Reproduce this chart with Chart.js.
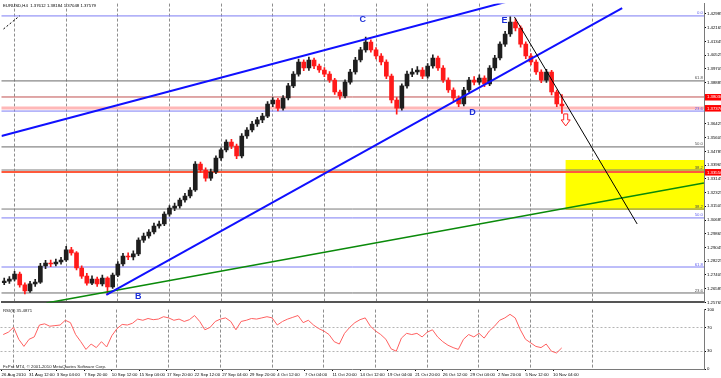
<!DOCTYPE html>
<html><head><meta charset="utf-8">
<script src="https://cdn.jsdelivr.net/npm/chart.js@4"></script>
<style>
html,body{margin:0;padding:0;background:#fff;overflow:hidden}
#wrap{position:relative;width:721px;height:378px;background:#fff}
canvas{position:absolute;left:0}
#main{top:0}
#rsi{top:306px}
</style></head><body>
<div id="wrap"><canvas id="main" width="721" height="306"></canvas><canvas id="rsi" width="721" height="72"></canvas></div>
<script>
// ---------------- DATA (EURUSD, 12h candles) ----------------
const candleOpen = [
1.2695,1.2704,1.2716,1.2746,1.2681,1.2645,1.2687,1.2698,1.2794,1.2812,
1.2806,1.2818,1.2830,1.2890,1.2872,1.2782,1.2734,1.2692,1.2716,1.2687,
1.2722,1.2669,1.2740,1.2806,1.2854,1.2848,1.2866,1.2949,1.2973,1.2997,
1.3033,1.3045,1.3104,1.3140,1.3152,1.3188,1.3212,1.3248,1.3403,1.3367,
1.3319,1.3355,1.3439,1.3487,1.3534,1.3510,1.3451,1.3570,1.3606,1.3642,
1.3666,1.3689,1.3761,1.3785,1.3737,1.3797,1.3869,1.3940,1.4012,1.3976,
1.4024,1.3988,1.3964,1.3940,1.3904,1.3833,1.3809,1.3892,1.3952,1.4024,
1.4084,1.4131,1.4084,1.4048,1.4012,1.3928,1.3785,1.3737,1.3869,1.3940,
1.3952,1.3964,1.3928,1.3988,1.4036,1.3976,1.3904,1.3845,1.3797,1.3761,
1.3845,1.3904,1.3892,1.3916,1.3881,1.3976,1.4036,1.4119,1.4179,1.4251,
1.4215,1.4119,1.4048,1.4012,1.3952,1.3904,1.3952,1.3833,1.3761];
const candleHigh = [
1.2722,1.2731,1.2762,1.2758,1.2693,1.2702,1.2715,1.2810,1.2828,1.2830,
1.2835,1.2846,1.2912,1.2905,1.2880,1.2795,1.2750,1.2735,1.2728,1.2740,
1.2730,1.2752,1.2820,1.2870,1.2872,1.2885,1.2962,1.2990,1.3012,1.3050,
1.3062,1.3118,1.3155,1.3170,1.3200,1.3228,1.3262,1.3418,1.3415,1.3380,
1.3372,1.3452,1.3500,1.3548,1.3550,1.3522,1.3585,1.3620,1.3658,1.3682,
1.3705,1.3775,1.3800,1.3795,1.3812,1.3885,1.3955,1.4030,1.4025,1.4042,
1.4035,1.4000,1.3978,1.3955,1.3915,1.3845,1.3905,1.3968,1.4040,1.4100,
1.4160,1.4145,1.4098,1.4062,1.4025,1.3940,1.3800,1.3882,1.3958,1.3972,
1.3985,1.3978,1.4002,1.4055,1.4048,1.3990,1.3918,1.3858,1.3810,1.3860,
1.3920,1.3925,1.3935,1.3930,1.3990,1.4052,1.4132,1.4195,1.4282,1.4270,
1.4228,1.4132,1.4062,1.4025,1.3965,1.3968,1.3962,1.3845,1.3818];
const candleLow = [
1.2683,1.2690,1.2705,1.2668,1.2627,1.2636,1.2672,1.2690,1.2778,1.2790,
1.2795,1.2805,1.2822,1.2858,1.2770,1.2720,1.2680,1.2682,1.2672,1.2675,
1.2625,1.2660,1.2731,1.2795,1.2832,1.2830,1.2855,1.2935,1.2960,1.2985,
1.3020,1.3035,1.3092,1.3125,1.3140,1.3175,1.3200,1.3240,1.3352,1.3300,
1.3305,1.3345,1.3425,1.3475,1.3495,1.3435,1.3440,1.3555,1.3595,1.3628,
1.3650,1.3680,1.3745,1.3720,1.3725,1.3785,1.3858,1.3928,1.3960,1.3962,
1.3972,1.3950,1.3925,1.3890,1.3818,1.3790,1.3798,1.3880,1.3940,1.4012,
1.4070,1.4070,1.4030,1.3995,1.3912,1.3768,1.3700,1.3725,1.3855,1.3925,
1.3938,1.3912,1.3915,1.3975,1.3962,1.3890,1.3830,1.3780,1.3745,1.3750,
1.3832,1.3875,1.3878,1.3865,1.3870,1.3962,1.4025,1.4105,1.4165,1.4198,
1.4100,1.4032,1.3995,1.3938,1.3888,1.3890,1.3815,1.3745,1.3705];
const candleClose = [
1.2704,1.2716,1.2746,1.2681,1.2645,1.2687,1.2698,1.2794,1.2812,1.2806,
1.2818,1.2830,1.2890,1.2872,1.2782,1.2734,1.2692,1.2716,1.2687,1.2722,
1.2669,1.2740,1.2806,1.2854,1.2848,1.2866,1.2949,1.2973,1.2997,1.3033,
1.3045,1.3104,1.3140,1.3152,1.3188,1.3212,1.3248,1.3403,1.3367,1.3319,
1.3355,1.3439,1.3487,1.3534,1.3510,1.3451,1.3570,1.3606,1.3642,1.3666,
1.3689,1.3761,1.3785,1.3737,1.3797,1.3869,1.3940,1.4012,1.3976,1.4024,
1.3988,1.3964,1.3940,1.3904,1.3833,1.3809,1.3892,1.3952,1.4024,1.4084,
1.4131,1.4084,1.4048,1.4012,1.3928,1.3785,1.3737,1.3869,1.3940,1.3952,
1.3964,1.3928,1.3988,1.4036,1.3976,1.3904,1.3845,1.3797,1.3761,1.3845,
1.3904,1.3892,1.3916,1.3881,1.3976,1.4036,1.4119,1.4179,1.4251,1.4215,
1.4119,1.4048,1.4012,1.3952,1.3904,1.3952,1.3833,1.3761,1.3749];
const rsiValues = [
58,62,70,50,38,50,54,74,76,72,
73,74,82,78,58,46,33,42,36,46,
37,56,68,75,74,77,84,82,85,83,
84,88,86,82,84,80,83,90,80,66,
70,80,84,86,80,66,80,82,85,84,
86,88,86,74,80,84,87,90,78,82,
74,68,64,58,46,42,60,70,78,83,
86,72,64,58,50,34,30,52,60,58,
60,54,62,66,54,46,40,36,33,50,
58,54,60,52,64,72,82,86,92,86,
66,50,44,38,36,42,30,27,35.49];
const timeLabels = ["26 Aug 2010","31 Aug 12:00","3 Sep 04:00","7 Sep 20:00","10 Sep 12:00","15 Sep 04:00",
"17 Sep 20:00","22 Sep 12:00","27 Sep 04:00","29 Sep 20:00","4 Oct 12:00","7 Oct 04:00","11 Oct 20:00",
"14 Oct 12:00","19 Oct 04:00","21 Oct 20:00","26 Oct 12:00","29 Oct 04:00","2 Nov 20:00","5 Nov 12:00","10 Nov 04:00"];
const priceTicks = [1.42985,1.42165,1.41345,1.40525,1.39705,1.38885,1.38065,1.37245,1.36425,1.35605,1.34785,
1.33965,1.33145,1.32325,1.31505,1.30685,1.29865,1.29045,1.28225,1.27405,1.26585,1.25765];
const rsiTicks = [0,30,70,100];
const weekGridBars = [7,37,67,97,127,157,187,217,247,277,307,343];
// horizontal objects (Fibonacci levels and price lines)
const levelPrices = [1.4287,1.3899,1.3803,1.3737,1.3719,1.3505,1.3367,1.3355,1.3134,1.3081,1.2788,1.2633];
const levelLabels = ["0.0","61.8","","","23.6","50.0","38.2","","38.2","50.0","61.8","23.6"];
const axisBoxLevels = [1.3803,1.3737,1.3355];
// trend lines: [bar, price] end points
const trendUpperBars = [-0.6,292.2],  trendUpperPrices = [1.3570,1.4370];
const trendLowerBars = [60.3,360.0],  trendLowerPrices = [1.2621,1.4334];
const trendGreenBars = [25.5,407.5],  trendGreenPrices = [1.2573,1.3290];
const trendBlackBars = [297.4,368.7], trendBlackPrices = [1.4281,1.3045];
const trendDashBars  = [0.6,9.9],     trendDashPrices  = [1.4209,1.4287];
const zoneBars = [327,420], zonePrices = [1.3128,1.3427];
const waveNames = ["B","C","D","E"];
const waveBars = [78.8,209.3,273.0,291.6];
const wavePrices = [1.2609,1.4263,1.3708,1.4257];
const arrowBar = 327.2, arrowPrice = 1.3702;
const headerText = "EURUSD,H4  1.37612 1.38184 1.37048 1.37579";
const rsiText = "RSI(9) 35.4871";
const copyText = "FxPro MT4, \u00A9 2001-2010 MetaQuotes Software Corp.";

// ---------------- LAYOUT / STYLE ----------------
const PX_PER_BAR = 1.725, BAR0_PX = 1;           // H4 bar -> pixel
const PRICE_AT_0 = 1.438208, PRICE_PER_PX = 0.000597;
const FONT = '"Liberation Sans", Arial, sans-serif';
const SMALL = 4.3;
const levelStyle = [
 {c:'#7c7cf4',w:1,t:'#5c5cf0'},{c:'#6a6a6a',w:1,t:'#505050'},{c:'#c05050',w:1,t:null},{c:'#ffb8b8',w:3,t:null},
 {c:'#7c7cf4',w:1,t:'#5c5cf0'},{c:'#6a6a6a',w:1,t:'#505050'},{c:'#7a7a7a',w:1,t:'#505050'},{c:'#ff5a3c',w:2,t:null},
 {c:'#7a7a7a',w:1,t:'#505050'},{c:'#7c7cf4',w:1,t:'#5c5cf0'},{c:'#7c7cf4',w:1,t:'#5c5cf0'},{c:'#6a6a6a',w:1,t:'#505050'}];
const BULL = '#1e1e1e', BEAR = '#ff1a1a';

Chart.defaults.font.family = FONT;
Chart.defaults.font.size = SMALL;
Chart.defaults.color = '#000';

const candleX = candleClose.map((_, i) => 3 * i + 1); // each candle covers 3 H4 bars
const candleColor = candleClose.map((c, i) => c >= candleOpen[i] ? BULL : BEAR);

function seg(bars, prices) { return bars.map((b, i) => ({x: b, y: prices[i]})); }
function lineDs(data, color, width, order, extra) {
  return Object.assign({type:'line', data, borderColor:color, borderWidth:width, pointRadius:0,
    tension:0, fill:false, order}, extra || {});
}

const datasets = [];
datasets.push(lineDs(seg(zoneBars, [zonePrices[0], zonePrices[0]]), 'rgba(0,0,0,0)', 0, 100));
datasets.push(lineDs(seg(zoneBars, [zonePrices[1], zonePrices[1]]), 'rgba(0,0,0,0)', 0, 99,
  {fill:'-1', backgroundColor:'#ffff00'}));
levelPrices.forEach((p, i) => {
  datasets.push(lineDs(seg([-5, 420], [p, p]), levelStyle[i].c, levelStyle[i].w, 50 - i));
});
datasets.push({type:'bar', data: candleX.map((x, i) => ({x, y:[candleLow[i], candleHigh[i]]})),
  backgroundColor: candleColor, barThickness:1, grouped:false, borderWidth:0, order:20});
datasets.push({type:'bar', data: candleX.map((x, i) => ({x, y:[candleOpen[i], candleClose[i]]})),
  backgroundColor: candleColor, barThickness:4, minBarLength:1, grouped:false, borderWidth:0, order:19});
datasets.push(lineDs(seg(trendGreenBars, trendGreenPrices), '#0a8a0a', 1.5, 12));
datasets.push(lineDs(seg(trendUpperBars, trendUpperPrices), '#1010ff', 2, 11));
datasets.push(lineDs(seg(trendLowerBars, trendLowerPrices), '#1010ff', 2, 10));
datasets.push(lineDs(seg(trendBlackBars, trendBlackPrices), '#000000', 1, 9));
datasets.push(lineDs(seg(trendDashBars, trendDashPrices), '#000000', 1, 8, {borderDash:[2,2]}));

const mainOverlay = {
  id: 'mainOverlay',
  afterDraw(chart) {
    const {ctx, chartArea: ca, scales: {x, y}} = chart;
    ctx.save();
    ctx.font = SMALL + 'px ' + FONT;
    ctx.textAlign = 'right'; ctx.textBaseline = 'bottom';
    levelPrices.forEach((p, i) => {
      if (!levelLabels[i]) return;
      ctx.fillStyle = levelStyle[i].t;
      ctx.fillText(levelLabels[i], ca.right - 1, y.getPixelForValue(p) - 0.5);
    });
    // price boxes on the axis
    ctx.textAlign = 'left'; ctx.textBaseline = 'middle';
    axisBoxLevels.forEach(p => {
      const py = y.getPixelForValue(p);
      ctx.fillStyle = '#ff0000';
      ctx.fillRect(ca.right + 1, py - 3, 721 - ca.right - 1, 6.5);
      ctx.fillStyle = '#ffffff';
      ctx.fillText(p.toFixed(5), ca.right + 3, py + 0.3);
    });
    // wave letters
    ctx.font = 'bold 9px ' + FONT;
    ctx.fillStyle = '#1c2fd8';
    ctx.textAlign = 'center'; ctx.textBaseline = 'middle';
    waveNames.forEach((n, i) => ctx.fillText(n, x.getPixelForValue(waveBars[i]), y.getPixelForValue(wavePrices[i])));
    // hollow down arrow
    const ax = x.getPixelForValue(arrowBar), ay = y.getPixelForValue(arrowPrice);
    ctx.beginPath();
    ctx.moveTo(ax - 2, ay); ctx.lineTo(ax + 2, ay); ctx.lineTo(ax + 2, ay + 6); ctx.lineTo(ax + 4.5, ay + 6);
    ctx.lineTo(ax, ay + 12); ctx.lineTo(ax - 4.5, ay + 6); ctx.lineTo(ax - 2, ay + 6); ctx.closePath();
    ctx.fillStyle = '#ffffff'; ctx.fill();
    ctx.strokeStyle = '#ff2020'; ctx.lineWidth = 1; ctx.stroke();
    // header
    ctx.font = SMALL + 'px ' + FONT;
    ctx.fillStyle = '#000'; ctx.textAlign = 'left'; ctx.textBaseline = 'middle';
    ctx.fillText(headerText, 3, 6);
    ctx.restore();
  }
};

const mainChart = new Chart(document.getElementById('main'), {
  type: 'bar',
  data: {datasets},
  options: {
    responsive:false, animation:false, devicePixelRatio:1,
    layout:{padding:{top:1,left:0,right:0,bottom:0}},
    plugins:{legend:{display:false}, tooltip:{enabled:false}},
    scales:{
      x:{type:'linear', position:'bottom', offset:false, min:-0.58, max:407.5,
         afterBuildTicks: s => { s.ticks = weekGridBars.map(v => ({value:v})); },
         afterFit: s => { s.height = 2; },
         ticks:{display:false},
         grid:{display:true, drawOnChartArea:true, drawTicks:false, color:'#8e8e8e', lineWidth:1, offset:false},
         border:{display:true, color:'#555555', width:2, dash:[3,2]}},
      y:{type:'linear', position:'right', min:1.2567, max:1.4376,
         afterBuildTicks: s => { s.ticks = priceTicks.map(v => ({value:v})); },
         afterFit: s => { s.width = 17; },
         ticks:{autoSkip:false, padding:1, color:'#000', font:{size:SMALL}, callback: v => Number(v).toFixed(5)},
         grid:{drawOnChartArea:false, drawTicks:true, tickLength:2, color:'#000'},
         border:{display:true, color:'#7a7a7a', width:1}}
    }
  },
  plugins:[mainOverlay]
});

// pin scales to the picture's pixel mapping
(function(){
  const ca = mainChart.chartArea, s = mainChart.options.scales;
  s.x.min = (ca.left - BAR0_PX) / PX_PER_BAR; s.x.max = (ca.right - BAR0_PX) / PX_PER_BAR;
  s.y.max = PRICE_AT_0 - PRICE_PER_PX * ca.top; s.y.min = PRICE_AT_0 - PRICE_PER_PX * ca.bottom;
  mainChart.update('none');
})();

const rsiOverlay = {
  id:'rsiOverlay',
  afterDraw(chart) {
    const ctx = chart.ctx;
    ctx.save();
    ctx.font = SMALL + 'px ' + FONT;
    ctx.fillStyle = '#222'; ctx.textAlign = 'left'; ctx.textBaseline = 'middle';
    ctx.fillText(rsiText, 3, 4.5);
    ctx.fillText(copyText, 3, 61);
    ctx.restore();
  }
};

const rsiChart = new Chart(document.getElementById('rsi'), {
  type:'line',
  data:{datasets:[{data: candleX.map((x, i) => ({x, y: rsiValues[i]})), borderColor:'#ff6060', borderWidth:1,
    pointRadius:0, tension:0, fill:false}]},
  options:{
    responsive:false, animation:false, devicePixelRatio:1,
    layout:{padding:{top:2,left:0,right:0,bottom:0}},
    plugins:{legend:{display:false}, tooltip:{enabled:false}},
    scales:{
      x:{type:'linear', position:'bottom', offset:false, min:-0.58, max:407.5,
         afterBuildTicks: s => { s.ticks = timeLabels.map((_, k) => ({value: 16 * k})); },
         afterFit: s => { s.height = 9; },
         ticks:{autoSkip:false, maxRotation:0, minRotation:0, align:'start', padding:1, color:'#000',
                font:{size:SMALL}, callback: (v, i) => timeLabels[i]},
         grid:{drawOnChartArea:false, drawTicks:true, tickLength:2, color:'#000'},
         border:{display:true, color:'#7a7a7a', width:1}},
      xg:{type:'linear', position:'bottom', offset:false, min:-0.58, max:407.5,
         afterBuildTicks: s => { s.ticks = weekGridBars.map(v => ({value:v})); },
         afterFit: s => { s.height = 0; },
         ticks:{display:false},
         grid:{display:true, drawOnChartArea:true, drawTicks:false, color:'#8e8e8e', lineWidth:1},
         border:{display:false, dash:[3,2]}},
      y:{type:'linear', position:'right', min:0, max:100,
         afterBuildTicks: s => { s.ticks = rsiTicks.map(v => ({value:v})); },
         afterFit: s => { s.width = 17; },
         ticks:{autoSkip:false, padding:1, color:'#000', font:{size:SMALL}, callback: v => String(v)},
         grid:{drawOnChartArea:true, drawTicks:true, tickLength:2, tickColor:'#000',
               color: c => (c.tick && (c.tick.value === 30 || c.tick.value === 70)) ? '#b4b4b4' : 'rgba(0,0,0,0)'},
         border:{display:true, color:'#7a7a7a', width:1, dash:[2,2]}}
    }
  },
  plugins:[rsiOverlay]
});
(function(){
  const ca = rsiChart.chartArea, s = rsiChart.options.scales;
  s.x.min = (ca.left - BAR0_PX) / PX_PER_BAR; s.x.max = (ca.right - BAR0_PX) / PX_PER_BAR;
  s.xg.min = s.x.min; s.xg.max = s.x.max;
  rsiChart.update('none');
})();
</script>
</body></html>
